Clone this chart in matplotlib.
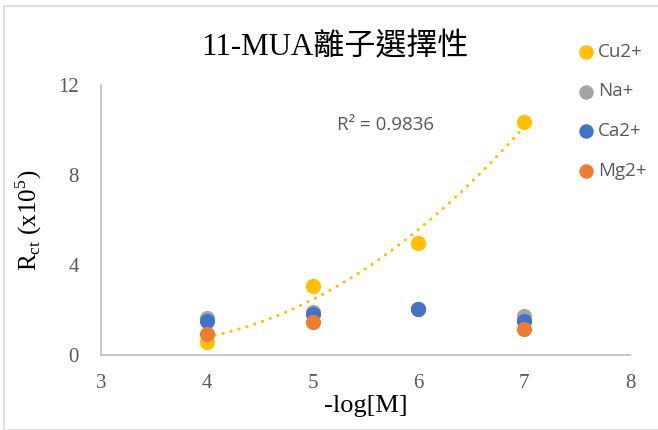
import matplotlib.pyplot as plt
import matplotlib.patches as patches
import numpy as np

x_vals = [4, 5, 6, 7]
cu = [0.6, 3.07, 4.97, 10.35]
na = [1.65, 1.9, 2.05, 1.75]
ca = [1.5, 1.83, 2.05, 1.52]
mg = [0.95, 1.45, None, 1.17]
labels = ["Cu2+", "Na+", "Ca2+", "Mg2+"]
colors = ["#FFC000", "#A5A5A5", "#4472C4", "#ED7D31"]
r2_text = "R² = 0.9836"

serif = ["Liberation Serif", "Noto Sans CJK TC"]
sans = ["Open Sans", "DejaVu Sans"]

fig = plt.figure(figsize=(6.58, 4.30), dpi=100)
ax = fig.add_axes([101 / 658, 75 / 430, 529 / 658, 270 / 430])

series = [cu, na, ca, mg]
for vals, lab, col in zip(series, labels, colors):
    xs = [x for x, v in zip(x_vals, vals) if v is not None]
    ys = [v for v in vals if v is not None]
    ax.scatter(xs, ys, s=120, color=col, label=lab, zorder=3, linewidths=0)

# order-2 polynomial trendline for Cu2+
coef = np.polyfit(x_vals, cu, 2)
xt = np.linspace(4, 7, 100)
ax.plot(xt, np.polyval(coef, xt), color="#FFC000", lw=2.2,
        linestyle=(0, (0.1, 2.6)), dash_capstyle="round", zorder=2)

ax.text(5.23, 10.0, r2_text, fontsize=13.5, color="#595959", family=sans)

ax.set_xlim(3, 8)
ax.set_ylim(0, 12)
ax.set_xticks([3, 4, 5, 6, 7, 8])
ax.set_yticks([0, 4, 8, 12])
for s in ["top", "right"]:
    ax.spines[s].set_visible(False)
for s in ["left", "bottom"]:
    ax.spines[s].set_color("#BFBFBF")
    ax.spines[s].set_linewidth(1.2)
ax.tick_params(length=0, labelsize=15, labelcolor="#595959")
ax.tick_params(axis="x", pad=14)
ax.tick_params(axis="y", pad=16)
for t in ax.get_xticklabels() + ax.get_yticklabels():
    t.set_family(serif)

ax.set_xlabel("-log[M]", fontsize=19, family=serif, labelpad=1)
ax.set_ylabel(r"R$_{\mathregular{ct}}$ (x10$^{\mathregular{5}}$)", fontsize=18,
              family=serif, labelpad=10)
fig.text(335 / 658, 1 - 48 / 430, "11-MUA離子選擇性", fontsize=22.3,
         family=serif, ha="center", va="center")

leg = fig.legend(loc="upper left", bbox_to_anchor=(558 / 658, 1 - 26 / 430),
                 frameon=False, handletextpad=0.05, labelspacing=1.15,
                 prop={"family": sans, "size": 13.5}, markerscale=0.95,
                 handlelength=1.2)
for t in leg.get_texts():
    t.set_color("#595959")

fig.patches.append(patches.Rectangle((4 / 658, 0), 660 / 658, 1 - 6 / 430,
                                     transform=fig.transFigure, fill=False,
                                     edgecolor="#D9D9D9", lw=1.2))

fig.savefig("out.png", dpi=100)
